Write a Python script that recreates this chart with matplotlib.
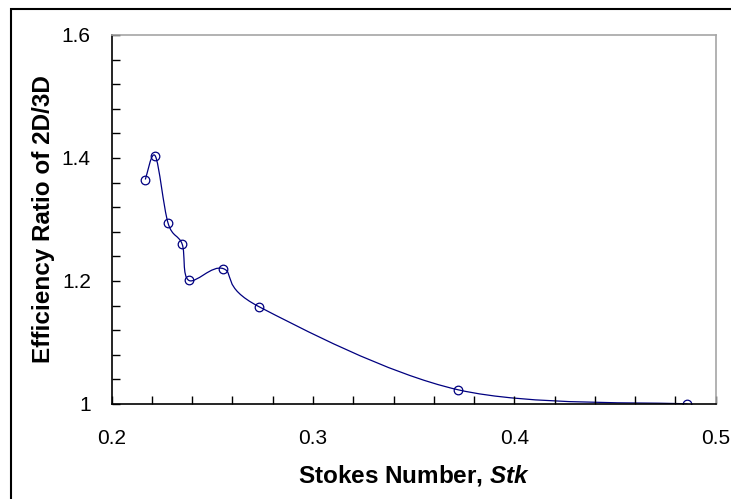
import numpy as np
import matplotlib
matplotlib.use('Agg')
import matplotlib.pyplot as plt
from matplotlib.path import Path
from matplotlib.patches import PathPatch, Rectangle
from matplotlib.ticker import MultipleLocator

# data
stk = [0.2167, 0.2217, 0.2280, 0.2350, 0.2383, 0.2555, 0.2733, 0.3722, 0.4860]
ratio = [1.365, 1.403, 1.294, 1.260, 1.201, 1.220, 1.158, 1.023, 1.000]
x_ticks = [0.2, 0.3, 0.4, 0.5]
x_tick_labels = ['0.2', '0.3', '0.4', '0.5']
y_ticks = [1.0, 1.2, 1.4, 1.6]
y_tick_labels = ['1', '1.2', '1.4', '1.6']

line_col = '#000080'

plt.rcParams['font.family'] = ['Liberation Sans', 'DejaVu Sans']
plt.rcParams['mathtext.fontset'] = 'custom'
plt.rcParams['mathtext.rm'] = 'Liberation Sans'
plt.rcParams['mathtext.bfit'] = 'Liberation Sans:bold:italic'

fig = plt.figure(figsize=(7.31, 4.99), dpi=100)
ax = fig.add_axes([0.1528, 0.1904, 0.979 - 0.1528, 0.9299 - 0.1904])
ax.set_xlim(0.2, 0.5)
ax.set_ylim(1.0, 1.6)

# excel style smoothed line: bezier through points, built in screen space
def smooth_path(xs, ys):
  pts = ax.transData.transform(np.column_stack([xs, ys]))
  n = len(pts)
  verts = [pts[0]]
  codes = [Path.MOVETO]
  for i in range(n - 1):
    p0 = pts[max(i - 1, 0)]
    p1 = pts[i]
    p2 = pts[i + 1]
    p3 = pts[min(i + 2, n - 1)]
    c1 = p1 + (p2 - p0) / 6.0
    c2 = p2 - (p3 - p1) / 6.0
    verts += [c1, c2, p2]
    codes += [Path.CURVE4] * 3
  verts = ax.transData.inverted().transform(np.array(verts))
  return Path(verts, codes)

ax.add_patch(PathPatch(smooth_path(stk, ratio), facecolor='none',
                       edgecolor=line_col, lw=0.9))
ax.plot(stk, ratio, 'o', mfc='none', mec=line_col, ms=6.2, mew=0.9)

ax.set_xticks(x_ticks)
ax.set_xticklabels(x_tick_labels)
ax.set_yticks(y_ticks)
ax.set_yticklabels(y_tick_labels)
ax.xaxis.set_minor_locator(MultipleLocator(0.02))
ax.yaxis.set_minor_locator(MultipleLocator(0.04))
ax.tick_params(which='both', direction='in', length=6, width=1, color='black',
               top=False, right=False)
ax.tick_params(axis='x', which='major', labelsize=15, pad=18)
ax.tick_params(axis='y', which='major', labelsize=15, pad=15)

for s in ['left', 'bottom']:
  ax.spines[s].set_color('black')
  ax.spines[s].set_linewidth(1.2)
for s in ['top', 'right']:
  ax.spines[s].set_color('#a6a6a6')
  ax.spines[s].set_linewidth(1.2)

ax.set_xlabel('Stokes Number, $\\mathbfit{Stk}$', fontsize=17.5, fontweight='bold', labelpad=11)
ax.set_ylabel('Efficiency Ratio of 2D/3D', fontsize=17.5, fontweight='bold', labelpad=5)

# outer frame like the original chart area
fig.patches.append(Rectangle((11 / 731, -0.1), 1.2, 1 - 9 / 499 + 0.1,
                             transform=fig.transFigure, fill=False,
                             edgecolor='black', lw=1.5))

fig.savefig('out.png', dpi=100)
